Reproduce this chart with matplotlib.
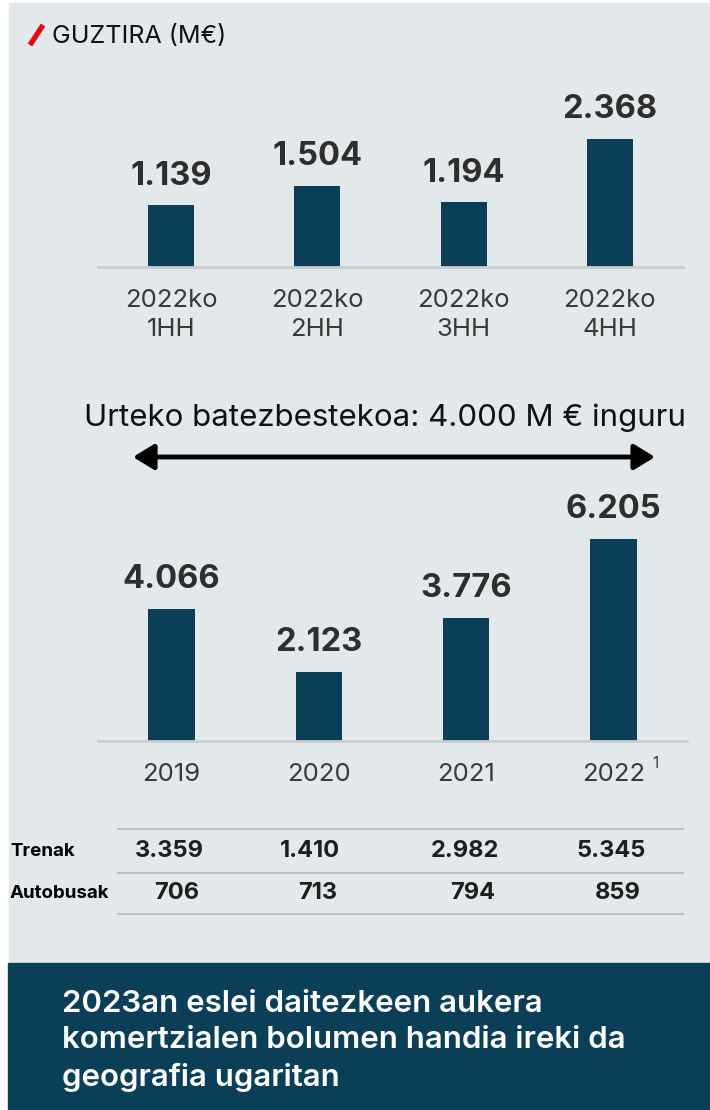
import matplotlib
matplotlib.use("Agg")
import matplotlib.pyplot as plt
from matplotlib.patches import Rectangle, FancyArrowPatch
from matplotlib.lines import Line2D

plt.rcParams['font.family'] = ['Inter', 'DejaVu Sans']

# data
quarter_labels = ['2022ko\n1HH', '2022ko\n2HH', '2022ko\n3HH', '2022ko\n4HH']
quarter_values = [1139, 1504, 1194, 2368]
year_labels = ['2019', '2020', '2021', '2022']
year_values = [4066, 2123, 3776, 6205]
row_names = ['Trenak', 'Autobusak']
trenak = [3359, 1410, 2982, 5345]
autobusak = [706, 713, 794, 859]

title = 'GUZTIRA (M€)'
avg_text = 'Urteko batezbestekoa: 4.000 M € inguru'
footer = '2023an eslei daitezkeen aukera\nkomertzialen bolumen handia ireki da\ngeografia ugaritan'

BAR = '#0b3f57'
BG = '#e3e8ea'
W, H = 710, 1110


def fmt(v):
    return f'{v:,}'.replace(',', '.')


def px_axes(fig, left, top, right, bottom):
    return fig.add_axes([left / W, 1 - bottom / H, (right - left) / W, (bottom - top) / H])


fig = plt.figure(figsize=(W / 100, H / 100), dpi=100)
fig.patch.set_facecolor('white')

# background canvas in pixel coords
bg = fig.add_axes([0, 0, 1, 1])
bg.set_xlim(0, W)
bg.set_ylim(H, 0)
bg.axis('off')
bg.add_patch(Rectangle((9, 3), W - 9, 960, color=BG, zorder=0))
bg.add_patch(Rectangle((8, 963), W - 8, H - 963, color=BAR, zorder=0))

# title with red slash
bg.plot([30, 43], [45, 25], color='#e30613', lw=3.8, solid_capstyle='butt')
bg.text(52, 37, title, fontsize=18, color='#111111', va='center', ha='left')


def bar_panel(ax, labels, values, top_val):
    ax.set_facecolor('none')
    ax.bar(range(len(values)), values, width=0.315, color=BAR, zorder=2)
    ax.set_xlim(-0.5, len(values) - 0.5)
    ax.set_ylim(0, top_val)
    for s in ['top', 'left', 'right']:
        ax.spines[s].set_visible(False)
    ax.spines['bottom'].set_color('#c8cdd0')
    ax.spines['bottom'].set_linewidth(2)
    ax.set_yticks([])
    ax.set_xticks(range(len(values)), labels)
    ax.tick_params(axis='x', length=0, pad=16, labelsize=18.5, labelcolor='#3a3a3a')
    for t in ax.get_xticklabels():
        t.set_linespacing(1.3)
    for i, v in enumerate(values):
        ax.annotate(fmt(v), (i, v), xytext=(0, 15), textcoords='offset points',
                    ha='center', va='baseline', fontsize=23.5, fontweight='bold',
                    color='#2e2e2e')


# top panel: quarters of 2022
ax1 = px_axes(fig, 98, 90, 683, 267)
bar_panel(ax1, quarter_labels, quarter_values, 177 * 2368 / 128)

# average note and arrow
bg.text(385, 418, avg_text, fontsize=22.5, color='#111111', ha='center', va='center')
bg.add_patch(FancyArrowPatch((133, 457), (655, 457), arrowstyle='<|-|>,head_length=0.9,head_width=0.55',
                             mutation_scale=14, lw=3.5, color='black', shrinkA=0, shrinkB=0))

# bottom panel: yearly totals
ax2 = px_axes(fig, 98, 470, 687, 741)
bar_panel(ax2, year_labels, year_values, 271 * 6205 / 202)
ax2.annotate('1', (3, 0), xycoords=('data', 'axes fraction'), xytext=(30, -16),
             textcoords='offset points', fontsize=11, color='#3a3a3a', ha='center', va='center')

# breakdown table
for y in [829, 873, 914]:
    bg.add_line(Line2D([118, 683], [y, y], color='#b9bfc3', lw=1.4))
row_y = [851, 893]
col_x = [[169, 310, 465, 611], [177, 318, 473, 618]]
for r, (name, vals) in enumerate(zip(row_names, [trenak, autobusak])):
    bg.text(10, row_y[r], name, fontsize=13.5, fontweight='bold', color='black', va='center')
    for x, v in zip(col_x[r], vals):
        bg.text(x, row_y[r], fmt(v), fontsize=17, fontweight='bold', color='#1e1e1e',
                ha='center', va='center')

# footer box text
bg.text(62, 1041, footer, fontsize=22.5, fontweight='semibold', color='white',
        ha='left', va='center', linespacing=1.37)

fig.savefig('out.png', dpi=100, facecolor=fig.get_facecolor())
